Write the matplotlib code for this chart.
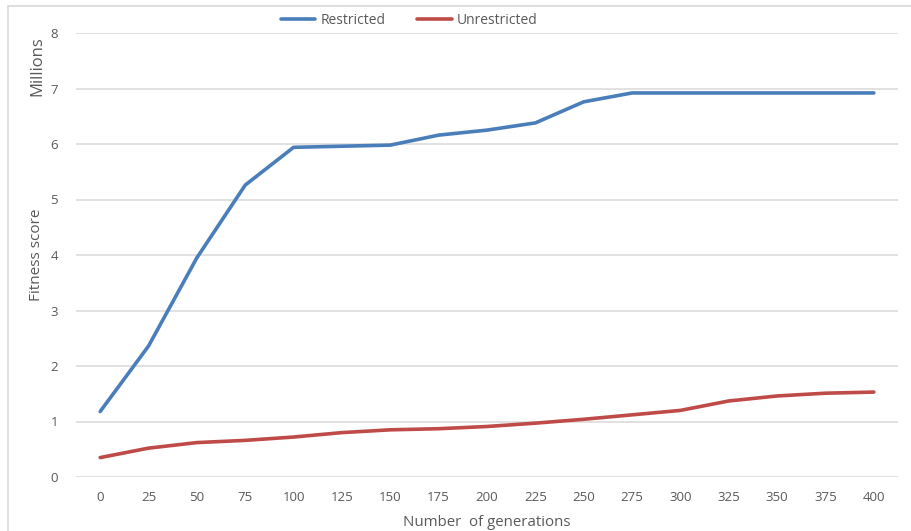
import matplotlib
matplotlib.use('Agg')
import matplotlib.pyplot as plt
from matplotlib.patches import Rectangle

# Fitness score (millions) per generation
generations = ['0', '25', '50', '75', '100', '125', '150', '175', '200',
               '225', '250', '275', '300', '325', '350', '375', '400']
restricted = [1.18, 2.36, 3.95, 5.26, 5.94, 5.96, 5.98, 6.16, 6.25,
              6.38, 6.76, 6.92, 6.92, 6.92, 6.92, 6.92, 6.92]
unrestricted = [0.35, 0.52, 0.62, 0.66, 0.72, 0.80, 0.85, 0.87, 0.91,
                0.97, 1.04, 1.12, 1.20, 1.37, 1.46, 1.51, 1.53]
y_ticks = [0, 1, 2, 3, 4, 5, 6, 7, 8]

text_col = '#595959'
plt.rcParams['font.family'] = ['Open Sans', 'DejaVu Sans']
plt.rcParams['font.size'] = 9.5

W, H = 912, 531
fig = plt.figure(figsize=(W / 100, H / 100), dpi=100)
ax = fig.add_axes([76 / W, 1 - 477 / H, (898 - 76) / W, (477 - 33) / H])

# light frame round the chart area
fig.patches.append(Rectangle((8 / W, -0.1), 1.2, 1 - 6 / H + 0.1,
                             transform=fig.transFigure, fill=False,
                             edgecolor='#D9D9D9', linewidth=1.2))

xs = range(len(generations))
ax.plot(xs, restricted, color='#4A7EBB', linewidth=2.6, label='Restricted',
        solid_capstyle='round', solid_joinstyle='round')
ax.plot(xs, unrestricted, color='#BE4B48', linewidth=2.6, label='Unrestricted',
        solid_capstyle='round', solid_joinstyle='round')

ax.set_xlim(-0.5, len(generations) - 0.5)
ax.set_ylim(0, 8)
ax.set_xticks(list(xs))
ax.set_xticklabels(generations)
ax.set_yticks(y_ticks)
ax.grid(axis='y', color='#D9D9D9', linewidth=1.1)
ax.set_axisbelow(True)
for s in ax.spines.values():
    s.set_visible(False)
ax.tick_params(length=0, colors=text_col, labelsize=9.5)
ax.tick_params(axis='x', pad=10)
ax.tick_params(axis='y', pad=13)

# axis titles
fig.text(487 / W, 1 - 522 / H, 'Number  of generations', color=text_col,
         fontsize=10.8, ha='center', va='center')
fig.text(37 / W, 1 - 255 / H, 'Fitness score', rotation=90, color=text_col,
         fontsize=11, ha='center', va='center')
fig.text(37 / W, 1 - 66 / H, 'Millions', rotation=90, color=text_col,
         fontsize=12, ha='center', va='center')

leg = fig.legend(loc='center', bbox_to_anchor=(409 / W, 1 - 20 / H), ncol=2,
                 frameon=False, handlelength=2.5, handletextpad=0.35,
                 columnspacing=2.3, fontsize=10)
for t in leg.get_texts():
    t.set_color(text_col)

fig.savefig('out.png', dpi=100, facecolor='white')
